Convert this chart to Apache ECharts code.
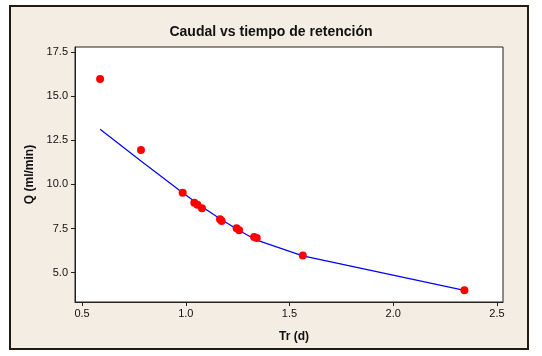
<!DOCTYPE html>
<html><head><meta charset="utf-8">
<script src="https://cdn.jsdelivr.net/npm/echarts@6/dist/echarts.min.js"></script>
<style>html,body{margin:0;padding:0;background:#fff;}#c{width:542px;height:356px;}</style>
</head><body><div id="c"></div>
<script>
const titleText = "Caudal vs tiempo de retención";
const xName = "Tr (d)";
const yName = "Q (ml/min)";
const trValues = [0.587, 0.784, 0.985, 1.041, 1.056, 1.078, 1.165, 1.173, 1.245, 1.257, 1.329, 1.342, 1.564, 2.343];
const qValues  = [15.97, 11.95, 9.53, 8.96, 8.85, 8.65, 8.02, 7.92, 7.52, 7.40, 7.02, 6.97, 5.97, 4.0];
const fitValues = [13.12, 11.33, 9.53, 9.05, 8.92, 8.74, 8.05, 7.99, 7.47, 7.39, 6.92, 6.84, 5.95, 4.0];
const xTicks = [0.5, 1.0, 1.5, 2.0, 2.5];
const yTicks = [5.0, 7.5, 10.0, 12.5, 15.0, 17.5];

const chart = echarts.init(document.getElementById('c'));
const pts = trValues.map((x, i) => [x, qValues[i]]);
const fit = trValues.map((x, i) => [x, fitValues[i]]);
const txt = '#111';
const font = 'Liberation Sans';
chart.setOption({
  animation: false,
  backgroundColor: '#ffffff',
  graphic: [{
    type: 'rect', z: -10, silent: true,
    shape: { x: 10, y: 6, width: 518, height: 343 },
    style: { fill: '#f4ede3', stroke: '#221a14', lineWidth: 2 }
  }],
  title: {
    text: titleText, left: 'center', top: 20,
    textStyle: { fontFamily: font, fontWeight: 'bold', fontSize: 14, color: txt }
  },
  grid: {
    left: 75, top: 47, right: 39, bottom: 54, show: true,
    backgroundColor: '#ffffff', borderColor: '#222', borderWidth: 1
  },
  xAxis: {
    type: 'value', min: 0.466, max: 2.529,
    name: xName, nameLocation: 'middle', nameGap: 29,
    nameTextStyle: { fontFamily: font, fontWeight: 'bold', fontSize: 12, color: txt, padding: [0, 0, 0, 10] },
    axisLine: { show: true, lineStyle: { color: '#222' } },
    axisTick: { show: true, length: 4, inside: false, customValues: xTicks, lineStyle: { color: '#222' } },
    axisLabel: { customValues: xTicks, margin: 6, fontFamily: font, fontSize: 11, color: txt,
      formatter: v => v.toFixed(1) },
    splitLine: { show: false }
  },
  yAxis: {
    type: 'value', min: 3.34, max: 17.78,
    name: yName, nameLocation: 'middle', nameGap: 38,
    nameTextStyle: { fontFamily: font, fontWeight: 'bold', fontSize: 12, color: txt },
    axisLine: { show: true, lineStyle: { color: '#222' } },
    axisTick: { show: true, length: 4, customValues: yTicks, lineStyle: { color: '#222' } },
    axisLabel: { customValues: yTicks, margin: 7, fontFamily: font, fontSize: 11, color: txt,
      formatter: v => v.toFixed(1) },
    splitLine: { show: false }
  },
  series: [
    { type: 'line', data: fit, symbol: 'none', lineStyle: { color: '#0000ff', width: 1.2 }, z: 2 },
    { type: 'scatter', data: pts, symbol: 'circle', symbolSize: 8, itemStyle: { color: '#ff0000', opacity: 1 }, z: 3 }
  ]
});
</script></body></html>
